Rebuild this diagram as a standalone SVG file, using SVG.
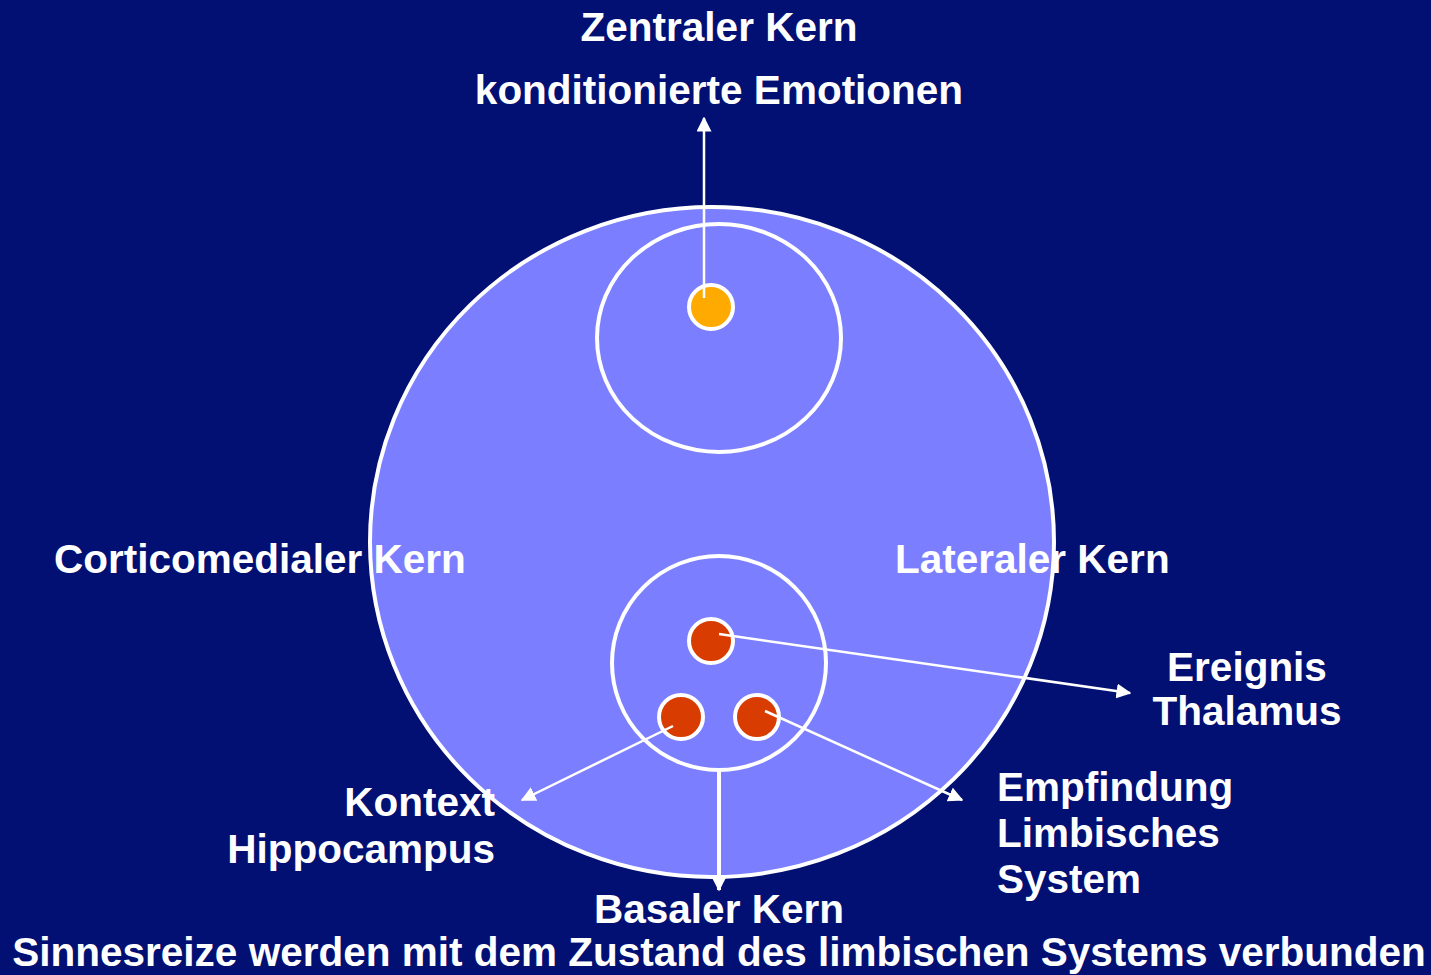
<svg xmlns="http://www.w3.org/2000/svg" width="1431" height="975" viewBox="0 0 1431 975">
<defs>
<style>
text{font-family:"Liberation Sans",Arial,sans-serif;font-weight:bold;font-size:40.5px;fill:#fff}
.c{text-anchor:middle}
.r{text-anchor:end}
.ring{stroke:#fff;stroke-width:4}
.con{stroke:#fff;stroke-width:2.5;fill:none;marker-end:url(#ah)}
</style>
<marker id="ah" viewBox="0 0 10 10" refX="9" refY="5" markerWidth="6" markerHeight="6" markerUnits="strokeWidth" orient="auto">
<path d="M0,0 L10,5 L0,10 Z" fill="#fff"/>
</marker>
<marker id="ah2" viewBox="0 0 10 10" refX="9" refY="5" markerWidth="4" markerHeight="4" markerUnits="strokeWidth" orient="auto">
<path d="M0,0 L10,5 L0,10 Z" fill="#fff"/>
</marker>
</defs>
<rect width="1431" height="975" fill="#021073"/>
<g id="amygdala">
<ellipse cx="712" cy="542" rx="342" ry="335" fill="#7B7FFF" class="ring"/>
</g>
<g id="zentral">
<ellipse cx="719" cy="338" rx="122" ry="114" fill="#7B7FFF" class="ring"/>
<circle cx="711" cy="307" r="22" fill="#FFAA00" class="ring"/>
</g>
<g id="basolateral">
<circle cx="719" cy="663" r="107" fill="#7B7FFF" class="ring"/>
<circle cx="711" cy="641" r="22" fill="#D83C00" class="ring"/>
<circle cx="681" cy="717" r="22" fill="#D83C00" class="ring"/>
<circle cx="757" cy="717" r="22" fill="#D83C00" class="ring"/>
</g>
<g id="connectors">
<line x1="704" y1="298" x2="704" y2="118" class="con"/>
<line x1="719" y1="634" x2="1130" y2="693" class="con"/>
<line x1="673" y1="726" x2="522" y2="800" class="con"/>
<line x1="765" y1="711" x2="962" y2="800" class="con"/>
<line x1="719" y1="770" x2="719" y2="890" class="con" style="stroke-width:4;marker-end:url(#ah2)"/>
</g>
<g id="labels">
<text x="719" y="41" class="c">Zentraler Kern</text>
<text x="719" y="104" class="c">konditionierte Emotionen</text>
<text x="54" y="573">Corticomedialer Kern</text>
<text x="895" y="573">Lateraler Kern</text>
<text x="1247" y="681" class="c">Ereignis</text>
<text x="1247" y="725" class="c">Thalamus</text>
<text x="997" y="801">Empfindung</text>
<text x="997" y="847">Limbisches</text>
<text x="997" y="893">System</text>
<text x="495" y="816" class="r">Kontext</text>
<text x="495" y="863" class="r">Hippocampus</text>
<text x="719" y="923" class="c">Basaler Kern</text>
<text x="719" y="966" class="c">Sinnesreize werden mit dem Zustand des limbischen Systems verbunden</text>
</g>
</svg>
